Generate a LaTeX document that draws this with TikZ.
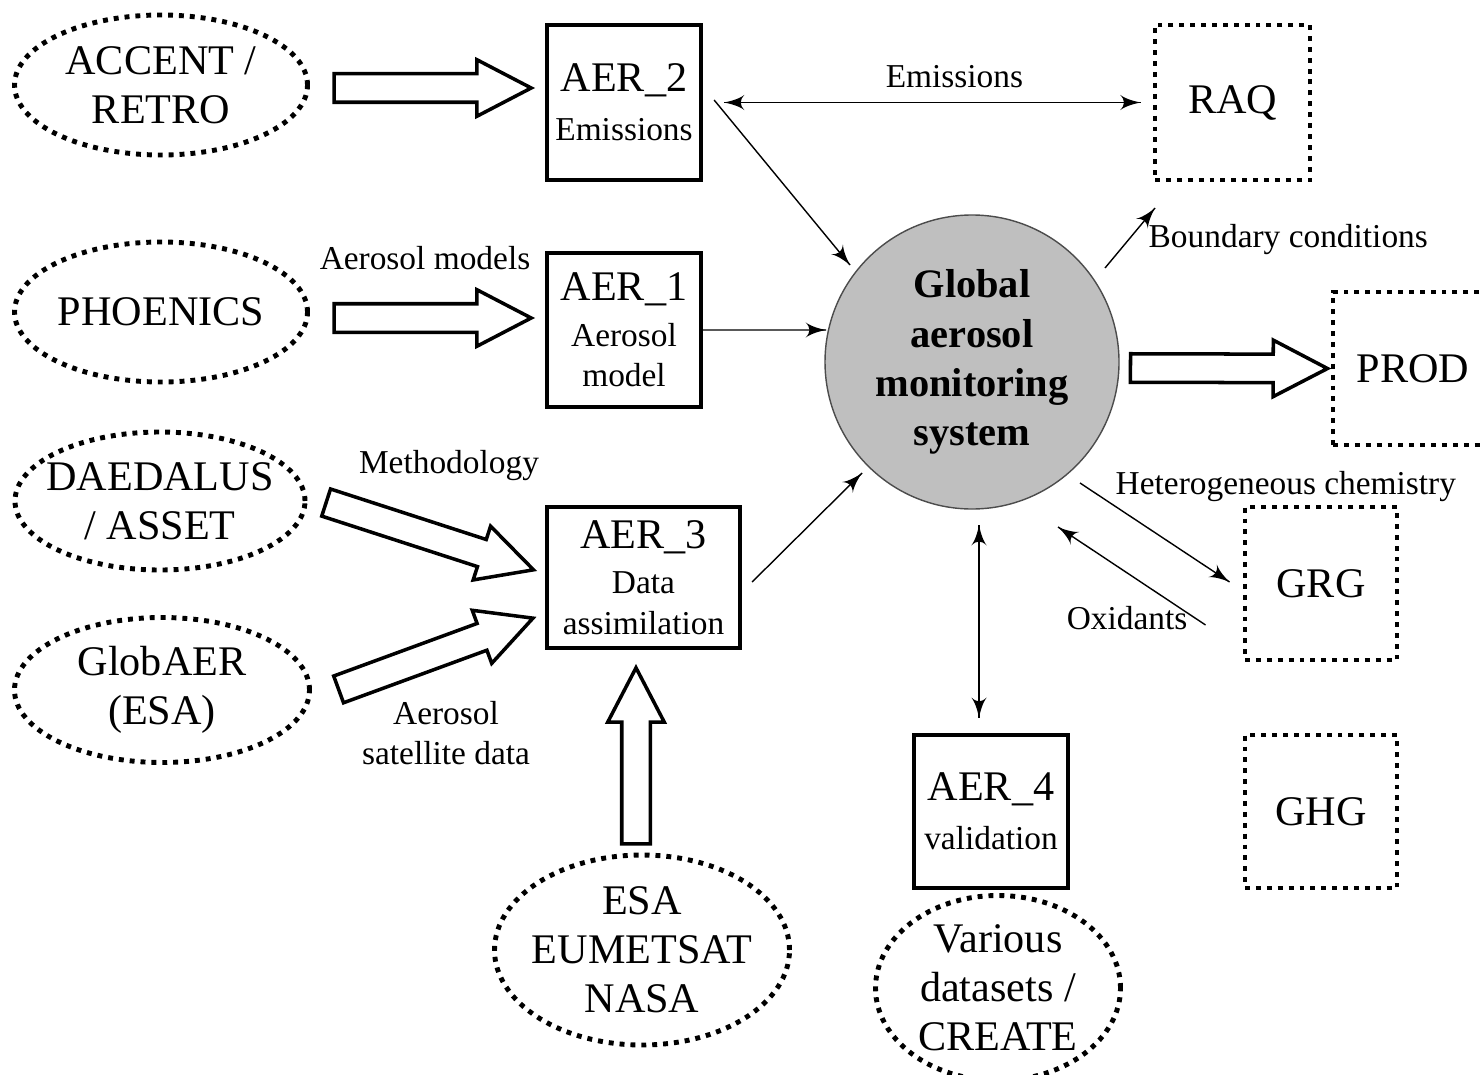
\documentclass[tikz,border=0pt]{standalone}
\usepackage{fontspec}
\setmainfont{Liberation Serif}
\usetikzlibrary{arrows}
\usetikzlibrary{decorations.markings}
\usetikzlibrary{positioning}
\usetikzlibrary{calc}
\usetikzlibrary{shapes.geometric}
\usetikzlibrary{shapes.arrows}
\tikzset{->/.style = {decoration={markings,
                                  mark=at position 1 with {\arrow[scale=1.45]{latex'}}},
                      postaction={decorate}}}
\tikzset{<->/.style = {decoration={markings,
                                   mark=at position 0 with {\arrowreversed[scale=1.45]{latex'}},
                                   mark=at position 1 with {\arrow[scale=1.45]{latex'}}},
                       postaction={decorate}}}
\tikzset{srcell/.style = {ellipse, draw, line width=1.4pt, dash pattern=on 1.4pt off 1.7pt,
                          inner sep=0, align=center, font=\fontsize{12}{14}\selectfont}}
\tikzset{aerbox/.style = {draw, line width=1.2pt, inner sep=0, align=center,
                          font=\fontsize{12}{14}\selectfont}}
\tikzset{dotbox/.style = {draw, line width=1.4pt, dash pattern=on 1.4pt off 1.7pt,
                          inner sep=0, font=\fontsize{12}{14}\selectfont}}
\tikzset{fatarrow/.style = {single arrow, draw, line width=1pt, fill=white, sloped,
                            allow upside down, pos=0, anchor=tail, inner sep=0.125cm,
                            single arrow head extend=0.14cm, single arrow tip angle=55}}
\tikzset{lbl/.style = {inner sep=0, align=center, font=\fontsize{9.5}{11.4}\selectfont}}
\newcommand{\smtxt}{\fontsize{9.5}{11.4}\selectfont}
\definecolor{mgray}{rgb}{0.75, 0.75, 0.75}

\begin{document}
\begin{tikzpicture}[y=-1cm]
      \useasboundingbox (0,0) rectangle (14.82,10.74);

      \node [srcell, minimum width=2.93cm, minimum height=1.40cm] (accent) at (1.61,0.85) {ACCENT /\\RETRO};
      \node [srcell, minimum width=2.93cm, minimum height=1.40cm] (phoenics) at (1.61,3.12) {PHOENICS};
      \node [srcell, minimum width=2.90cm, minimum height=1.38cm] (daedalus) at (1.60,5.01) {\makebox[0pt]{DAEDALUS}\\/ ASSET};
      \node [srcell, minimum width=2.95cm, minimum height=1.45cm] (globaer) at (1.62,6.90) {GlobAER\\(ESA)};
      \node [srcell, minimum width=2.95cm, minimum height=1.90cm] (esa) at (6.42,9.50) {ESA\\\makebox[0pt]{EUMETSAT}\\NASA};
      \node [srcell, minimum width=2.45cm, minimum height=1.85cm] (various) at (9.98,9.88) {Various\\datasets /\\CREATE};

      \node [aerbox, minimum width=1.54cm, minimum height=1.55cm] (aer2) at (6.24,1.025) {AER\_2\\{\smtxt Emissions}};
      \node [aerbox, minimum width=1.54cm, minimum height=1.54cm] (aer1) at (6.24,3.30) {AER\_1\\[-1pt]{\smtxt Aerosol}\\[-2.5pt]{\smtxt model}};
      \node [aerbox, minimum width=1.93cm, minimum height=1.41cm] (aer3) at (6.435,5.775) {AER\_3\\[-1pt]{\smtxt Data}\\[-2.5pt]{\smtxt assimilation}};
      \node [aerbox, minimum width=1.54cm, minimum height=1.53cm] (aer4) at (9.91,8.115) {AER\_4\\{\smtxt validation}};

      \node [dotbox, minimum width=1.55cm, minimum height=1.55cm] (raq) at (12.325,1.025) {RAQ};
      \node [dotbox, minimum width=1.60cm, minimum height=1.53cm] (prod) at (14.13,3.685) {PROD};
      \node [dotbox, minimum width=1.52cm, minimum height=1.53cm] (grg) at (13.21,5.835) {GRG};
      \node [dotbox, minimum width=1.52cm, minimum height=1.53cm] (ghg) at (13.21,8.115) {GHG};

      \node [circle, draw=black!70, fill=mgray, minimum size=2.94cm, inner sep=0, align=center,
             font=\fontsize{11.5}{14}\selectfont\bfseries] (gams) at (9.72,3.62) {Global\\aerosol\\monitoring\\system};

      \path ($(accent.east)+(0.225,0.03)$) -- node [fatarrow, minimum height=1.97cm] {} ($(aer2.west)+(-0.20,-0.145)$);
      \path ($(phoenics.east)+(0.225,0.06)$) -- node [fatarrow, minimum height=1.97cm] {} ($(aer1.west)+(-0.20,-0.12)$);
      \path ($(daedalus.east)+(0.17,0.01)$) -- node [fatarrow, minimum height=2.18cm] {} ($(aer3.west)+(-0.17,-0.095)$);
      \path ($(globaer.east)+(0.25,0)$) -- node [fatarrow, minimum height=2.07cm] {} ($(aer3.west)+(-0.17,0.425)$);
      \path ($(esa.north)+(-0.06,-0.07)$) -- node [fatarrow, minimum height=1.76cm] {} ($(aer3.south)+(-0.075,0.24)$);
      \path ($(gams.east)+(0.09,0.06)$) -- node [fatarrow, minimum height=1.97cm] {} ($(prod.west)+(-0.08,0)$);

      \draw [<->] ($(aer2.east)+(0.21,0)$) -- node [lbl, pos=0.553, above=0.14cm] (lemis) {Emissions} ($(raq.west)+(-0.12,0)$);
      \draw [->] ($(aer2.east)+(0.11,-0.025)$) -- ($(gams)+(-1.22,-0.97)$);
      \draw [->] (aer1.east) -- ($(gams)+(-1.46,-0.32)$);
      \draw [->] ($(aer3.east)+(0.10,0.045)$) -- ($(gams)+(-1.10,1.11)$);
      \draw [->] ($(gams)+(1.33,-0.94)$) -- ($(gams)+(1.83,-1.54)$)
            node [lbl, anchor=west, xshift=-0.07cm, yshift=-0.32cm] (lbound) {Boundary conditions};
      \draw [->] ($(gams)+(1.08,1.21)$) -- ($(grg.west)+(-0.13,-0.015)$);
      \draw [->] ($(grg.west)+(-0.37,0.415)$) -- ($(gams)+(0.86,1.65)$);
      \draw [<->] ($(gams)+(0.07,1.63)$) -- ($(aer4.north)+(-0.12,-0.15)$);

      \node [lbl] (lmod) at (4.25,2.58) {Aerosol models};
      \node [lbl] (lmeth) at (4.49,4.66) {Methodology};
      \node [lbl] (lsat) at (4.46,7.33) {Aerosol\\satellite data};
      \node [lbl, anchor=west] (lhet) at (11.15,4.87) {Heterogeneous chemistry};
      \node [lbl, anchor=east] (loxi) at (11.88,6.18) {Oxidants};
    \end{tikzpicture}
\end{document}
